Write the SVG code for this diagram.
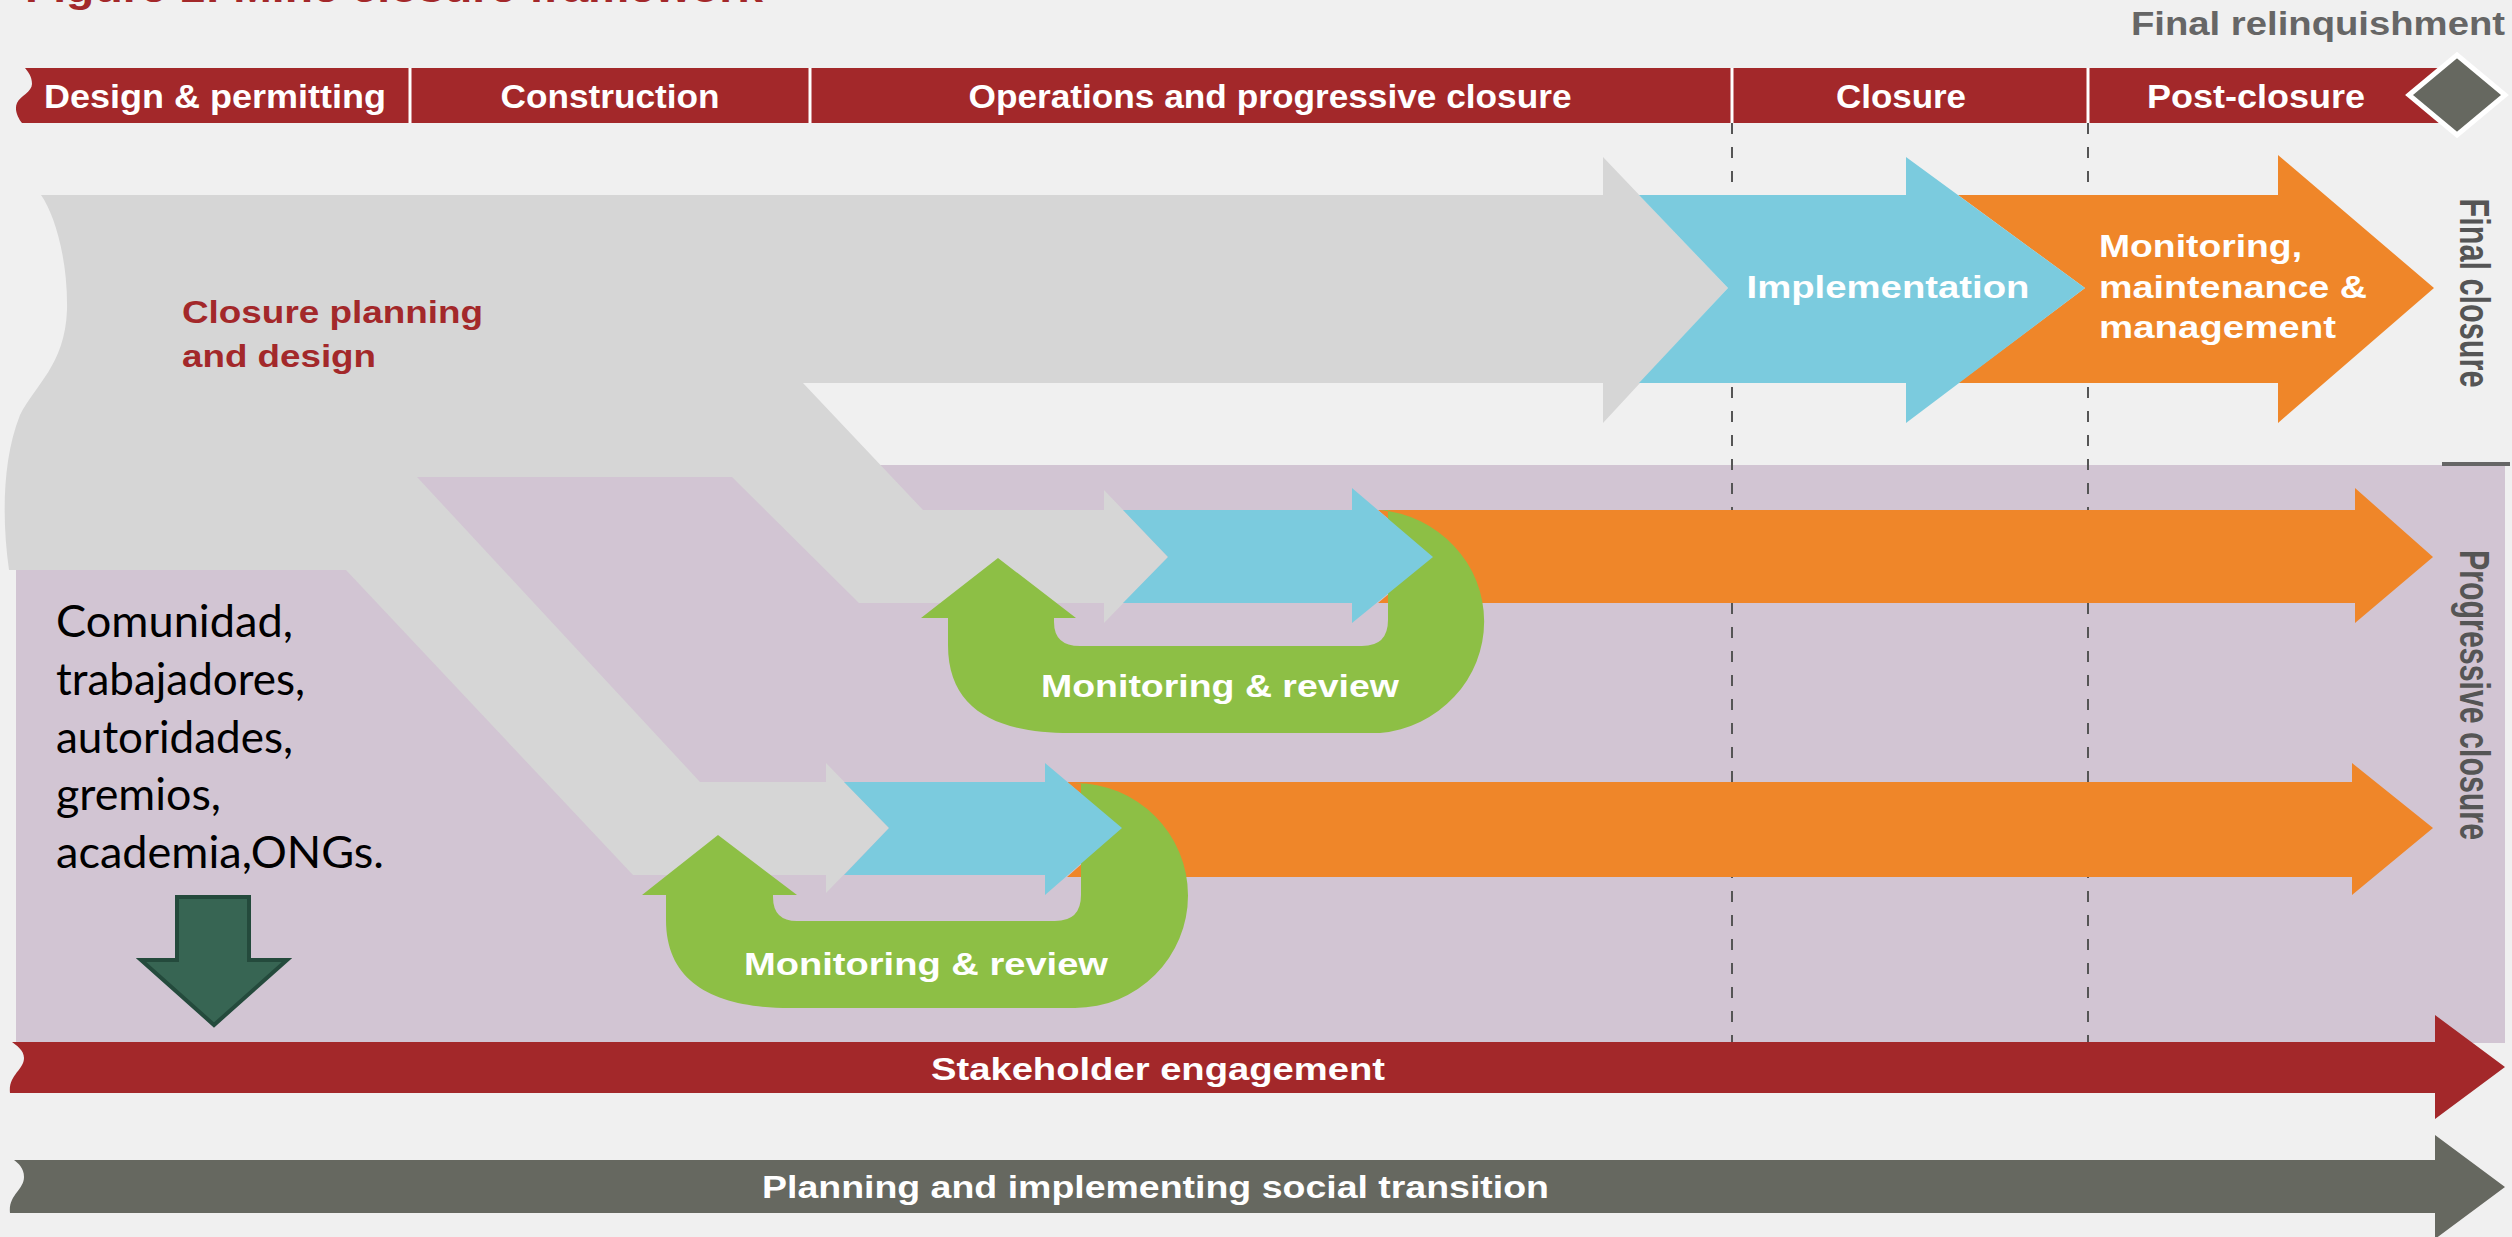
<svg xmlns="http://www.w3.org/2000/svg" width="2512" height="1237" viewBox="0 0 2512 1237">
<style>
.sans{font-family:"Liberation Sans",Arial,sans-serif;font-weight:bold}
.hdr{font-size:34px;fill:#ffffff;text-anchor:middle}
.wt{font-size:32px;fill:#ffffff}
.red{fill:#a3282a}
.grayArrow{fill:#d6d6d6}
.blue{fill:#7bcbde}
.orange{fill:#ef8629}
.green{fill:#8dbf45}
.side{font-size:42px;fill:#555555;text-anchor:middle}
.stk{font-family:Lato,"Open Sans",sans-serif;font-size:44px;fill:#000000}
</style>
<rect x="0" y="0" width="2512" height="1237" fill="#f0f0f0"/>
<text class="sans" x="25" y="2" font-size="40" fill="#a3282a" textLength="738" lengthAdjust="spacingAndGlyphs">Figure 1: Mine closure framework</text>

<g id="progressive-band">
<rect x="16" y="465" width="2489" height="578" fill="#d2c5d3"/>
<line x1="2442" y1="464" x2="2510" y2="464" stroke="#666666" stroke-width="4"/>
</g>

<g id="connectors">
<line x1="1732" y1="123" x2="1732" y2="1042" stroke="#555555" stroke-width="2" stroke-dasharray="11 13"/>
<line x1="2088" y1="123" x2="2088" y2="1042" stroke="#555555" stroke-width="2" stroke-dasharray="11 13"/>
</g>

<g id="header">
<path class="red" d="M25 68 L2440 68 L2440 123 L22 123 C18 118 14 110 17 103 C20 96 32 92 32 84 C32 76 28 72 25 68 Z"/>
<g stroke="#ffffff" stroke-width="3">
<line x1="410" y1="68" x2="410" y2="123"/>
<line x1="810" y1="68" x2="810" y2="123"/>
<line x1="1732" y1="68" x2="1732" y2="123"/>
<line x1="2088" y1="68" x2="2088" y2="123"/>
</g>
<text class="sans hdr" x="215" y="108" textLength="342" lengthAdjust="spacingAndGlyphs">Design &amp; permitting</text>
<text class="sans hdr" x="610" y="108" textLength="219" lengthAdjust="spacingAndGlyphs">Construction</text>
<text class="sans hdr" x="1270" y="108" textLength="603" lengthAdjust="spacingAndGlyphs">Operations and progressive closure</text>
<text class="sans hdr" x="1901" y="108" textLength="130" lengthAdjust="spacingAndGlyphs">Closure</text>
<text class="sans hdr" x="2256" y="108" textLength="218" lengthAdjust="spacingAndGlyphs">Post-closure</text>
</g>

<g id="final-relinquishment">
<polygon points="2409,95 2457,55 2505,95 2457,135" fill="#666860" stroke="#ffffff" stroke-width="5"/>
<text class="sans" x="2505" y="35" font-size="34" fill="#666666" text-anchor="end" textLength="374" lengthAdjust="spacingAndGlyphs">Final relinquishment</text>
</g>

<g id="orange-arrows">
<path class="orange" d="M1958 195 L2278 195 L2278 155 L2434 288 L2278 423 L2278 383 L1958 383 L2085 288 Z"/>
<path class="orange" d="M1378 510 L2355 510 L2355 488 L2433 557 L2355 623 L2355 603 L1378 603 L1433 557 Z"/>
<path class="orange" d="M1067 782 L2352 782 L2352 763 L2433 828 L2352 895 L2352 877 L1067 877 L1122 828 Z"/>
</g>

<g id="closure-planning">
<path class="grayArrow" d="M41 195 L1603 195 L1603 157 L1728 288 L1603 423 L1603 383 L803 383 L923 510 L1104 510 L1104 490 L1168 557 L1104 623 L1104 603 L859 603 L732 477 L417 477 L700 782 L826 782 L826 763 L889 828 L826 893 L826 875 L633 875 L346 570 L9 570 C2 520 2 460 20 415 C35 385 65 365 67 310 C68 260 55 215 41 195 Z"/>
<text class="sans red" font-size="32" x="182" y="323" textLength="301" lengthAdjust="spacingAndGlyphs">Closure planning</text>
<text class="sans red" font-size="32" x="182" y="367" textLength="194" lengthAdjust="spacingAndGlyphs">and design</text>
</g>

<g id="review-upper">
<path class="green" d="M998 558 L1076 618 L1054 618 L1054 622 Q1054 646 1080 646 L1362 646 Q1388 646 1388 620 L1388 510 L1380 510 A115 112 0 0 1 1380 733 L1070 733 C1000 733 948 712 948 645 L948 618 L921 618 Z"/>
<text class="sans wt" x="1041" y="697" font-size="30" textLength="358" lengthAdjust="spacingAndGlyphs">Monitoring &amp; review</text>
</g>

<g id="review-lower">
<path class="green" d="M718 835 L797 895 L773 895 L773 897 Q773 921 797 921 L1055 921 Q1081 921 1081 895 L1081 783 L1075 783 A113 112.5 0 0 1 1075 1008 L790 1008 C718 1008 666 985 666 920 L666 895 L642 895 Z"/>
<text class="sans wt" x="744" y="975" font-size="30" textLength="364" lengthAdjust="spacingAndGlyphs">Monitoring &amp; review</text>
</g>

<g id="blue-arrows">
<path class="blue" d="M1639 195 L1906 195 L1906 157 L2085 288 L1906 423 L1906 383 L1639 383 L1728 288 Z"/>
<path class="blue" d="M1123 510 L1352 510 L1352 488 L1433 557 L1352 623 L1352 603 L1123 603 L1168 557 Z"/>
<path class="blue" d="M844 782 L1045 782 L1045 763 L1122 828 L1045 895 L1045 875 L844 875 L889 828 Z"/>
</g>

<g id="implementation">
<text class="sans wt" x="1888" y="298" text-anchor="middle" textLength="283" lengthAdjust="spacingAndGlyphs">Implementation</text>
</g>

<g id="monitoring-maintenance">
<text class="sans wt" x="2099" y="257" textLength="203" lengthAdjust="spacingAndGlyphs">Monitoring,</text>
<text class="sans wt" x="2099" y="298" textLength="268" lengthAdjust="spacingAndGlyphs">maintenance &amp;</text>
<text class="sans wt" x="2099" y="338" textLength="237" lengthAdjust="spacingAndGlyphs">management</text>
</g>

<g id="side-labels">
<text class="sans side" transform="translate(2460,293) rotate(90)" textLength="189" lengthAdjust="spacingAndGlyphs">Final closure</text>
<text class="sans side" transform="translate(2460,695) rotate(90)" textLength="290" lengthAdjust="spacingAndGlyphs">Progressive closure</text>
</g>

<g id="stakeholders">
<text class="stk" x="56" y="637" textLength="237" lengthAdjust="spacingAndGlyphs">Comunidad,</text>
<text class="stk" x="56" y="695" textLength="249" lengthAdjust="spacingAndGlyphs">trabajadores,</text>
<text class="stk" x="56" y="753" textLength="237" lengthAdjust="spacingAndGlyphs">autoridades,</text>
<text class="stk" x="56" y="810" textLength="165" lengthAdjust="spacingAndGlyphs">gremios,</text>
<text class="stk" x="56" y="868" textLength="328" lengthAdjust="spacingAndGlyphs">academia,ONGs.</text>
<path d="M177 897 L249 897 L249 960 L287 960 L214 1025 L141 960 L177 960 Z" fill="#376553" stroke="#244a3c" stroke-width="4" stroke-linejoin="miter"/>
</g>

<g id="stakeholder-engagement">
<path class="red" d="M12 1042 L2435 1042 L2435 1015 L2505 1067 L2435 1119 L2435 1093 L10 1093 C8 1075 24 1070 24 1058 C24 1050 16 1045 12 1042 Z"/>
<text class="sans wt" x="931" y="1080" textLength="454" lengthAdjust="spacingAndGlyphs">Stakeholder engagement</text>
</g>

<g id="social-transition">
<path d="M14 1160 L2435 1160 L2435 1135 L2505 1187 L2435 1239 L2435 1213 L10 1213 C8 1195 24 1190 24 1177 C24 1168 18 1163 14 1160 Z" fill="#666860"/>
<text class="sans wt" x="762" y="1198" textLength="787" lengthAdjust="spacingAndGlyphs">Planning and implementing social transition</text>
</g>
</svg>
